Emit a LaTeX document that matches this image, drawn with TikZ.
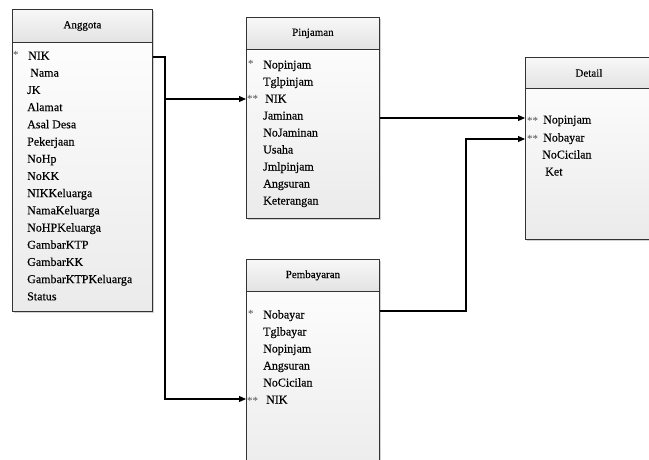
\documentclass[tikz,border=0pt]{standalone}
\usepackage{fontspec}
\setmainfont{Liberation Serif}
\usetikzlibrary{arrows.meta,shadows}
\begin{document}
\begin{tikzpicture}[x=1pt,y=-1pt,
  tbl/.style={draw=black!80, line width=0.8pt, top color=white, bottom color=black!8,
    drop shadow={shadow xshift=2pt,shadow yshift=-2pt,fill=black!35}, inner sep=0, anchor=north west},
  hdr/.style={draw=black!80, line width=0.8pt, top color=black!3, bottom color=black!11,
    inner sep=0, anchor=north west, font=\fontsize{11}{13}\selectfont\addfontfeature{FakeBold=0.3}},
  fld/.style={anchor=west, inner sep=0, text height=8pt, text depth=3pt, font=\fontsize{12}{14}\selectfont\addfontfeature{FakeBold=0.3}},
  keymark/.style={anchor=west, inner sep=0, text height=8pt, text depth=3pt, font=\fontsize{11}{12}\selectfont, text=black!70},
  conn/.style={line width=1.1pt},
  arr/.style={conn, -{Triangle[length=7pt,width=6pt]}}
]
\useasboundingbox (0,0) rectangle (649,459);
\clip (0,0) rectangle (649,459);
\fill[white] (0,0) rectangle (649,459);

% Anggota
\node[tbl, minimum width=140pt, minimum height=302pt] (ang) at (12,9) {};
\node[hdr, minimum width=140pt, minimum height=33pt] (angh) at (ang.north west) {Anggota};
\node[keymark] (ak) at (13,56) {*};
\foreach \t/\xx [count=\i] in {NIK/28, Nama/30, JK/27, Alamat/27, Asal Desa/27, Pekerjaan/27, NoHp/27, NoKK/27, NIKKeluarga/27, NamaKeluarga/27, NoHPKeluarga/27, GambarKTP/27, GambarKK/27, GambarKTPKeluarga/27, Status/27}
  \node[fld] (a\i) at (\xx, 57+17.2*\i-17.2) {\t};

% Pinjaman
\node[tbl, minimum width=133pt, minimum height=201pt] (pin) at (246,17) {};
\node[hdr, minimum width=133pt, minimum height=32pt] (pinh) at (pin.north west) {Pinjaman};
\node[keymark] (pk1) at (248,65) {*};
\node[keymark] (pk3) at (247,100) {**};
\foreach \t/\xx [count=\i] in {Nopinjam/263, Tglpinjam/263, NIK/265, Jaminan/263, NoJaminan/263, Usaha/263, Jmlpinjam/263, Angsuran/263, Keterangan/263}
  \node[fld] (p\i) at (\xx, 66+17*\i-17) {\t};

% Detail
\node[tbl, minimum width=127pt, minimum height=182pt] (det) at (525,57) {};
\node[hdr, minimum width=127pt, minimum height=31pt] (deth) at (det.north west) {Detail};
\node[keymark] (dk1) at (527,122) {**};
\node[keymark] (dk2) at (527,140) {**};
\node[fld] (d1) at (543,121) {Nopinjam};
\node[fld] (d2) at (543,139) {Nobayar};
\node[fld] (d3) at (542,156) {NoCicilan};
\node[fld] (d4) at (545,173) {Ket};

% Pembayaran
\node[tbl, minimum width=133pt, minimum height=230pt] (pem) at (246,259) {};
\node[hdr, minimum width=133pt, minimum height=32pt] (pemh) at (pem.north west) {Pembayaran};
\node[keymark] (mk1) at (248,315) {*};
\node[keymark] (mk6) at (247,402) {**};
\foreach \t/\xx [count=\i] in {Nobayar/263, Tglbayar/263, Nopinjam/263, Angsuran/263, NoCicilan/263, NIK/266}
  \node[fld] (m\i) at (\xx, 316+17*\i-17) {\t};

% connectors
\coordinate (bus1) at (165,0);
\coordinate (bus2) at (466,0);
\path (d1.west) ++(0,-3) coordinate (d1c);
\path (m1.west) ++(0,-5) coordinate (m1c);
\path (m6.west) ++(0,-2) coordinate (m6c);
\path (p3.west) ++(0,-1) coordinate (p3c);

\draw[arr] (a1 -| ang.east) -| (bus1 |- m6c) -- (m6c -| pem.west);
\draw[arr] (bus1 |- p3c) -- (p3c -| pin.west);
\draw[arr] (d1c -| pin.east) -- (d1c -| det.west);
\draw[arr] (m1c -| pem.east) -| (bus2 |- d2) -- (d2 -| det.west);
\end{tikzpicture}
\end{document}
